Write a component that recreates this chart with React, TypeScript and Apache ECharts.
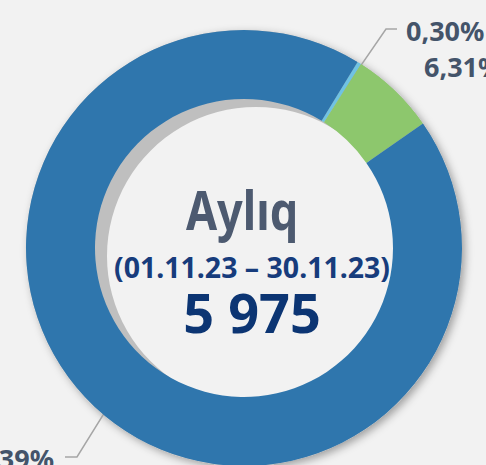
import React, { useEffect, useRef } from "react";
import * as echarts from "echarts";

// ---- data ----
const sliceNames = ["Seqment 1", "Seqment 2", "Seqment 3"];
const sliceValues = [0.3, 6.31, 93.39];
const centerTitle = "Aylıq";
const centerPeriod = "(01.11.23 – 30.11.23)";
const centerTotal = "5 975";

// ---- styles / layout ----
const sliceColors = ["#6FC3E3", "#8DC76D", "#2F76AD"];
const W = 486;
const H = 465;
const CX = 244;
const CY = 248;
const R_IN = 149;
const R_OUT = 218;
const FONT = '"Noto Sans", sans-serif';
const LABEL_COLOR = "#44546A";
const LINE_COLOR = "#a6a6a6";

// label placement (x, y, align, leader bend points)
const labelPlacement: any[] = [
  { x: 406, y: 30, align: "left", bend: [[386, 29], [397, 29]] },
  { x: 424, y: 66, align: "left", bend: null },
  { x: 54, y: 458, align: "right", bend: [[77, 457], [65, 457]] },
];

const fmt = (v: number) => v.toFixed(2).replace(".", ",") + "%";

export default function App() {
  const ref = useRef<HTMLDivElement>(null);
  useEffect(() => {
    if (!ref.current) return;
    const chart = echarts.init(ref.current, undefined, { renderer: "svg" });
    const decor = {
      type: "pie",
      silent: true,
      label: { show: false },
      labelLine: { show: false },
      emphasis: { disabled: true },
      tooltip: { show: false },
    };
    chart.setOption({
      animation: false,
      backgroundColor: "#f2f2f2",
      series: [
        {
          ...decor,
          z: 1,
          center: [CX, CY],
          radius: [0, R_OUT],
          itemStyle: {
            color: "#bfbfbf",
            shadowColor: "rgba(0,0,0,0.35)",
            shadowBlur: 8,
            shadowOffsetX: 3,
            shadowOffsetY: 3,
          },
          data: [{ value: 1 }],
        },
        {
          ...decor,
          z: 2,
          center: [CX + 12, CY + 8],
          radius: [0, R_IN],
          itemStyle: { color: "#f2f2f2" },
          data: [{ value: 1 }],
        },
        {
          type: "pie",
          z: 3,
          center: [CX, CY],
          radius: [R_IN, R_OUT],
          startAngle: 58.6,
          clockwise: true,
          avoidLabelOverlap: false,
          emphasis: { disabled: true },
          data: sliceNames.map((n, i) => ({
            name: n,
            value: sliceValues[i],
            itemStyle: { color: sliceColors[i] },
            labelLine: { show: !!labelPlacement[i].bend },
          })),
          label: {
            show: true,
            position: "outside",
            formatter: (p: any) => fmt(p.value),
            color: LABEL_COLOR,
            fontFamily: FONT,
            fontWeight: "bold",
            fontSize: 27,
            lineHeight: 27,
          },
          labelLine: {
            show: true,
            length: 20,
            length2: 10,
            lineStyle: { color: LINE_COLOR, width: 1.5 },
          },
          labelLayout: (params: any) => {
            const pl = labelPlacement[params.dataIndex];
            const out: any = {
              x: pl.x,
              y: pl.y,
              align: pl.align,
              verticalAlign: "middle",
            };
            if (pl.bend && params.labelLinePoints) {
              const p0 = params.labelLinePoints[0];
              const dx = p0[0] - CX;
              const dy = p0[1] - CY;
              const len = Math.hypot(dx, dy) || 1;
              const r = R_IN + 10;
              out.labelLinePoints = [
                [CX + (dx / len) * r, CY + (dy / len) * r],
                pl.bend[0],
                pl.bend[1],
              ];
            }
            return out;
          },
        },
      ],
      graphic: [
        {
          type: "text",
          z: 100,
          x: 242,
          y: 209,
          scaleX: 0.85,
          style: {
            text: centerTitle,
            fill: "#4D5A70",
            fontFamily: FONT,
            fontWeight: "bold",
            fontSize: 53,
            lineHeight: 53,
            align: "center",
            verticalAlign: "middle",
          },
        },
        {
          type: "text",
          z: 100,
          x: 252,
          y: 267,
          style: {
            text: centerPeriod,
            fill: "#173C7C",
            fontFamily: FONT,
            fontWeight: "bold",
            fontSize: 28.5,
            lineHeight: 26,
            align: "center",
            verticalAlign: "middle",
          },
        },
        {
          type: "text",
          z: 100,
          x: 252,
          y: 312,
          style: {
            text: centerTotal,
            fill: "#0C3573",
            fontFamily: FONT,
            fontWeight: "bold",
            fontSize: 54,
            lineHeight: 46,
            align: "center",
            verticalAlign: "middle",
          },
        },
      ],
    });
    return () => chart.dispose();
  }, []);
  return (
    <div
      ref={ref}
      style={{ position: "fixed", left: 0, top: 0, width: W, height: H }}
    />
  );
}
